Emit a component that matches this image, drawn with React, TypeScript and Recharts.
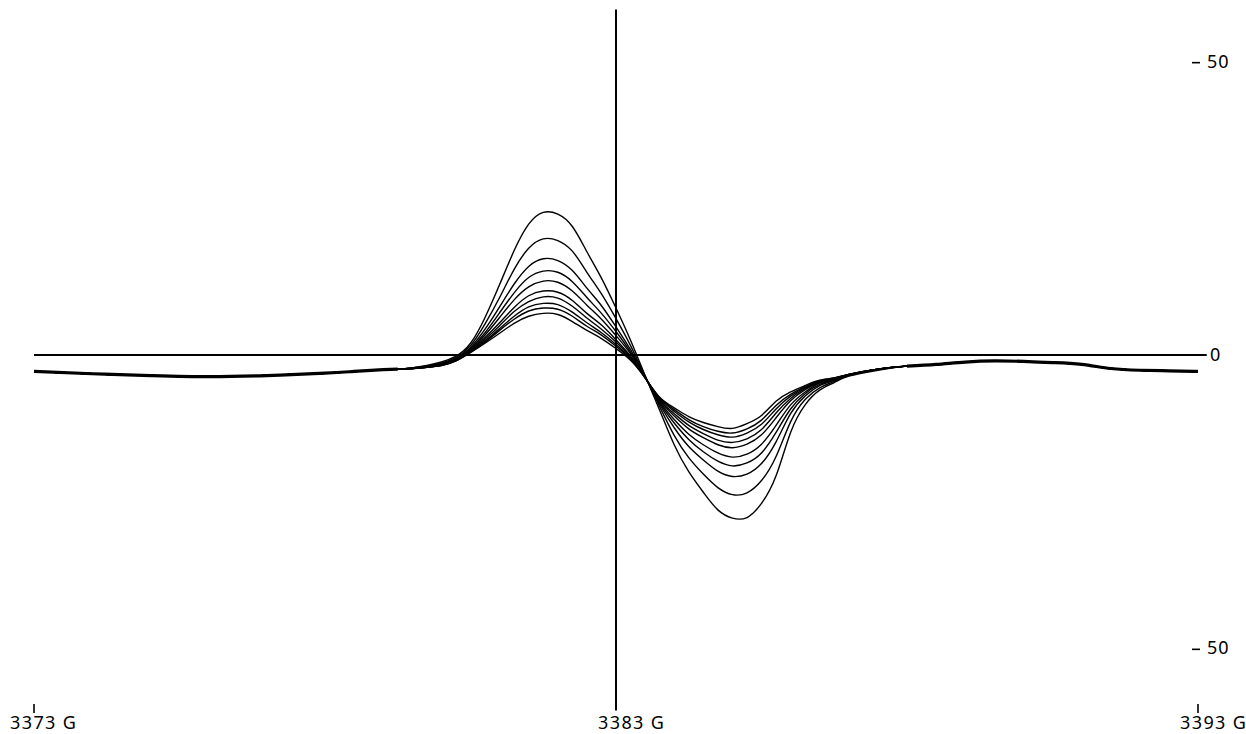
import React from "react";
import { LineChart, Line, XAxis, YAxis, ReferenceLine } from "recharts";

// Field positions (gauss)
const leftG = [3373, 3374, 3375, 3376, 3377, 3378, 3378.5, 3379, 3379.25];
const leftBase = [-2.8, -3.2, -3.5, -3.7, -3.5, -3.1, -2.8, -2.5, -2.4];

const midG = [
  3379.5, 3379.75, 3380, 3380.25, 3380.5, 3380.75, 3381, 3381.25, 3381.5, 3381.75,
  3382, 3382.25, 3382.5, 3382.75, 3383, 3383.25, 3383.5, 3383.75, 3384, 3384.25,
  3384.5, 3384.75, 3385, 3385.25, 3385.5, 3385.75, 3386, 3386.25, 3386.5, 3386.75,
  3387, 3387.5,
];

const rightG = [3388, 3388.5, 3389, 3389.5, 3390, 3390.5, 3391, 3391.5, 3392, 3392.5, 3393];
const rightBase = [-1.9, -1.6, -1.2, -1.0, -1.1, -1.3, -1.6, -2.3, -2.6, -2.7, -2.8];

// Ten spectra, largest to smallest amplitude
const s1 = [-2.2, -1.8, -1.2, -0.2, 2.0, 6.4, 12.0, 17.8, 22.3, 24.3, 24.0, 21.9, 17.6, 13.1, 8.0, 2.5, -3.5, -9.4, -15.3, -19.9, -23.4, -26.4, -27.8, -27.7, -25.3, -20.6, -13.2, -8.5, -6.0, -4.7, -3.6, -2.6];
const s2 = [-2.2, -1.9, -1.4, -0.4, 1.6, 5.3, 9.8, 14.6, 18.2, 19.8, 19.5, 17.7, 14.1, 10.4, 6.2, 1.6, -3.6, -8.8, -13.7, -17.5, -20.3, -22.6, -23.8, -23.5, -21.4, -17.3, -11.4, -7.6, -5.6, -4.5, -3.5, -2.5];
const s3 = [-2.2, -1.9, -1.5, -0.6, 1.3, 4.4, 8.2, 12.1, 15.1, 16.4, 16.1, 14.4, 11.4, 8.4, 4.8, 0.9, -3.7, -8.4, -12.4, -15.6, -17.9, -19.8, -20.7, -20.3, -18.5, -14.8, -10.0, -7.0, -5.2, -4.3, -3.5, -2.5];
const s4 = [-2.3, -2.0, -1.5, -0.7, 1.1, 3.8, 7.2, 10.6, 13.2, 14.3, 14.1, 12.5, 9.8, 7.1, 4.0, 0.5, -3.7, -8.1, -11.6, -14.4, -16.5, -18.1, -18.9, -18.4, -16.7, -13.2, -9.2, -6.6, -5.0, -4.2, -3.4, -2.4];
const s5 = [-2.3, -2.0, -1.6, -0.7, 0.9, 3.4, 6.4, 9.4, 11.6, 12.6, 12.4, 10.9, 8.5, 6.1, 3.3, 0.2, -3.8, -7.9, -11.0, -13.5, -15.3, -16.7, -17.4, -16.9, -15.2, -12.0, -8.5, -6.3, -4.8, -4.2, -3.4, -2.4];
const s6 = [-2.3, -2.0, -1.7, -0.8, 0.8, 3.0, 5.5, 8.1, 10.1, 10.9, 10.7, 9.3, 7.1, 5.1, 2.6, -0.2, -3.8, -7.7, -10.4, -12.6, -14.1, -15.3, -15.8, -15.2, -13.6, -10.7, -7.8, -5.9, -4.7, -4.1, -3.4, -2.4];
const s7 = [-2.3, -2.1, -1.7, -0.9, 0.7, 2.7, 5.0, 7.4, 9.1, 9.9, 9.7, 8.3, 6.3, 4.4, 2.2, -0.4, -3.8, -7.6, -10.0, -12.0, -13.4, -14.5, -14.9, -14.3, -12.7, -9.9, -7.4, -5.7, -4.6, -4.0, -3.3, -2.4];
const s8 = [-2.3, -2.1, -1.7, -0.9, 0.6, 2.4, 4.5, 6.6, 8.2, 8.8, 8.6, 7.3, 5.5, 3.8, 1.8, -0.6, -3.9, -7.4, -9.6, -11.4, -12.7, -13.6, -14.0, -13.3, -11.8, -9.2, -7.0, -5.5, -4.5, -4.0, -3.3, -2.4];
const s9 = [-2.3, -2.1, -1.8, -1.0, 0.5, 2.2, 4.2, 6.1, 7.5, 8.0, 7.8, 6.6, 4.9, 3.4, 1.5, -0.7, -3.9, -7.3, -9.3, -11.0, -12.2, -13.0, -13.3, -12.6, -11.1, -8.6, -6.7, -5.4, -4.4, -3.9, -3.3, -2.4];
const s10 = [-2.3, -2.1, -1.8, -1.0, 0.4, 2.0, 3.7, 5.4, 6.6, 7.1, 6.9, 5.7, 4.2, 2.8, 1.1, -0.9, -3.9, -7.2, -9.0, -10.5, -11.5, -12.2, -12.5, -11.7, -10.3, -7.9, -6.3, -5.2, -4.3, -3.9, -3.3, -2.4];

const series = [s1, s2, s3, s4, s5, s6, s7, s8, s9, s10];
const xTicks = [3373, 3383, 3393];
const yTicks = [50, 0, -50];
const centerField = 3383;

type Row = { [k: string]: number | null };

const data: Row[] = [];
leftG.forEach((g, i) => {
  const row: Row = { g, tail: leftBase[i] };
  series.forEach((_, k) => (row[`s${k + 1}`] = leftBase[i]));
  data.push(row);
});
midG.forEach((g, i) => {
  const row: Row = { g, tail: null };
  series.forEach((s, k) => (row[`s${k + 1}`] = s[i]));
  data.push(row);
});
rightG.forEach((g, i) => {
  const row: Row = { g, tail: rightBase[i] };
  series.forEach((_, k) => (row[`s${k + 1}`] = rightBase[i]));
  data.push(row);
});

const FONT = "'Noto Sans', 'DejaVu Sans', sans-serif";

const XTick = (props: any) => {
  const { x, payload } = props;
  const v = payload.value;
  const isCenter = v === centerField;
  const dx = v === 3373 ? -24 : -18;
  return (
    <g>
      {!isCenter && <line x1={x} x2={x} y1={704} y2={713} stroke="#000" strokeWidth={1.6} />}
      <text x={x + dx} y={729} textAnchor="start" fontFamily={FONT} fontSize={18} letterSpacing={1.4} fill="#000">
        {`${v} G`}
      </text>
    </g>
  );
};

const YTick = (props: any) => {
  const { y, payload } = props;
  const v = payload.value;
  if (v === 0) {
    return (
      <text x={1210} y={y + 6} textAnchor="start" fontFamily={FONT} fontSize={18} fill="#000">
        0
      </text>
    );
  }
  return (
    <g>
      <line x1={1192} x2={1200} y1={y + 1} y2={y + 1} stroke="#000" strokeWidth={1.6} />
      <text x={1207} y={y + 6} textAnchor="start" fontFamily={FONT} fontSize={18} letterSpacing={1} fill="#000">
        {`${Math.abs(v)}`}
      </text>
    </g>
  );
};

export default function App() {
  return (
    <div style={{ position: "absolute", left: 0, top: 0, width: 1246, height: 734, background: "#fff" }}>
      <LineChart width={1246} height={734} data={data} margin={{ top: 3, right: 0, bottom: 0, left: 34 }}>
        <XAxis
          dataKey="g"
          type="number"
          domain={[3373, 3393]}
          ticks={xTicks}
          axisLine={false}
          tickLine={false}
          height={27}
          tick={<XTick />}
          interval={0}
        />
        <YAxis
          orientation="right"
          type="number"
          domain={[-60, 60]}
          ticks={yTicks}
          axisLine={false}
          tickLine={false}
          width={48}
          tick={<YTick />}
          interval={0}
        />
        <ReferenceLine
          segment={[{ x: 3373, y: 0 }, { x: 3393.15, y: 0 }]}
          stroke="#000"
          strokeWidth={1.8}
          ifOverflow="visible"
        />
        <ReferenceLine
          segment={[{ x: centerField, y: 58.9 }, { x: centerField, y: -60.6 }]}
          stroke="#000"
          strokeWidth={2}
          ifOverflow="visible"
        />
        <Line
          dataKey="tail"
          type="natural"
          stroke="#000"
          strokeWidth={3.2}
          dot={false}
          isAnimationActive={false}
          connectNulls={false}
        />
        {series.map((_, k) => (
          <Line
            key={k}
            dataKey={`s${k + 1}`}
            type="natural"
            stroke="#000"
            strokeWidth={1.4}
            dot={false}
            isAnimationActive={false}
          />
        ))}
      </LineChart>
    </div>
  );
}
